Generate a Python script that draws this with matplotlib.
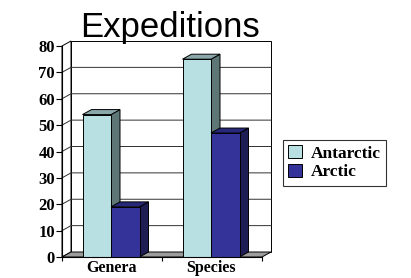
import matplotlib
matplotlib.use("Agg")
import matplotlib.pyplot as plt
from matplotlib.patches import Polygon
import numpy as np

# data
categories = ["Genera", "Species"]
series_names = ["Antarctic", "Arctic"]
antarctic = [54, 75]
arctic = [19, 47]
y_ticks = [0, 10, 20, 30, 40, 50, 60, 70, 80]

front_cols = ["#B8E0E3", "#333399"]
top_cols = ["#8AA8AA", "#28287A"]
side_cols = ["#5E7676", "#1E1E55"]

fig = plt.figure(figsize=(4.11, 2.78), dpi=100)
W, H = 411, 278
x0, x1 = 62, 262       # front plane, pixels
yb, yt = 257, 46       # value 0 and 80, pixels
ax = fig.add_axes([x0 / W, 1 - yb / H, (x1 - x0) / W, (yb - yt) / H])
ax.set_xlim(0, 2)
ax.set_ylim(0, 80)

# depth offset (pixels -> data units)
dx = 9 / ((x1 - x0) / 2)
dy = 5 / ((yb - yt) / 80)

edge = dict(edgecolor="black", linewidth=0.7, clip_on=False)

# walls and floor
ax.add_patch(Polygon([(dx, dy), (2 + dx, dy), (2 + dx, 80 + dy), (dx, 80 + dy)],
                     facecolor="white", zorder=0, **edge))
ax.add_patch(Polygon([(0, 0), (dx, dy), (dx, 80 + dy), (0, 80)],
                     facecolor="white", zorder=0, **edge))
for v in y_ticks[1:-1]:
    ax.plot([0, dx, 2 + dx], [v, v + dy, v + dy], color="#303030", lw=0.7,
            zorder=1, clip_on=False)
ax.add_patch(Polygon([(0, 0), (2, 0), (2 + dx, dy), (dx, dy)],
                     facecolor="#9C9C9C", zorder=1, **edge))

# bars
bw = 0.285
xc = np.arange(len(categories)) + 0.49
values = [antarctic, arctic]
for i, vals in enumerate(values):
    lefts = xc - bw + i * bw
    for l, h in zip(lefts, vals):
        r = l + bw
        ax.add_patch(Polygon([(r, 0), (r + dx, dy), (r + dx, h + dy), (r, h)],
                             facecolor=side_cols[i], zorder=2 + i, **edge))
        ax.add_patch(Polygon([(l, h), (r, h), (r + dx, h + dy), (l + dx, h + dy)],
                             facecolor=top_cols[i], zorder=2 + i, **edge))
    ax.bar(lefts, vals, width=bw, align="edge", color=front_cols[i],
           edgecolor="black", linewidth=0.7, zorder=2 + i, label=series_names[i])

# axes styling
for s in ["top", "right", "bottom"]:
    ax.spines[s].set_visible(False)
ax.spines["left"].set_linewidth(0.8)
ax.set_yticks(y_ticks)
ax.tick_params(axis="y", length=4, width=0.8, pad=1)
ax.set_xticks(xc)
ax.set_xticklabels(categories)
ax.set_xticks([0, 1, 2], minor=True)
ax.tick_params(axis="x", which="major", length=0, pad=2)
ax.tick_params(axis="x", which="minor", length=3, width=0.8)
ax.plot([0, 2], [0, 0], color="black", lw=0.8, clip_on=False, zorder=5)
for lab in ax.get_yticklabels():
    lab.set_fontfamily("Liberation Serif")
    lab.set_fontweight("bold")
    lab.set_fontsize(12)
for lab in ax.get_xticklabels():
    lab.set_fontfamily("Liberation Serif")
    lab.set_fontweight("bold")
    lab.set_fontsize(11.5)

fig.text(170 / W, 1 - 37 / H, "Expeditions", ha="center", va="baseline",
         fontsize=25, family="Liberation Sans")

leg = ax.legend(loc="upper left", bbox_to_anchor=(283 / W, 1 - 140 / H),
                bbox_transform=fig.transFigure, frameon=True, fancybox=False,
                borderaxespad=0, borderpad=0.3, handlelength=0.8, handleheight=0.8,
                handletextpad=0.5, labelspacing=0.1,
                prop={"family": "Liberation Serif", "weight": "bold", "size": 12.5})
leg.get_frame().set_edgecolor("black")
leg.get_frame().set_linewidth(0.8)

fig.savefig("out.png", dpi=100)
